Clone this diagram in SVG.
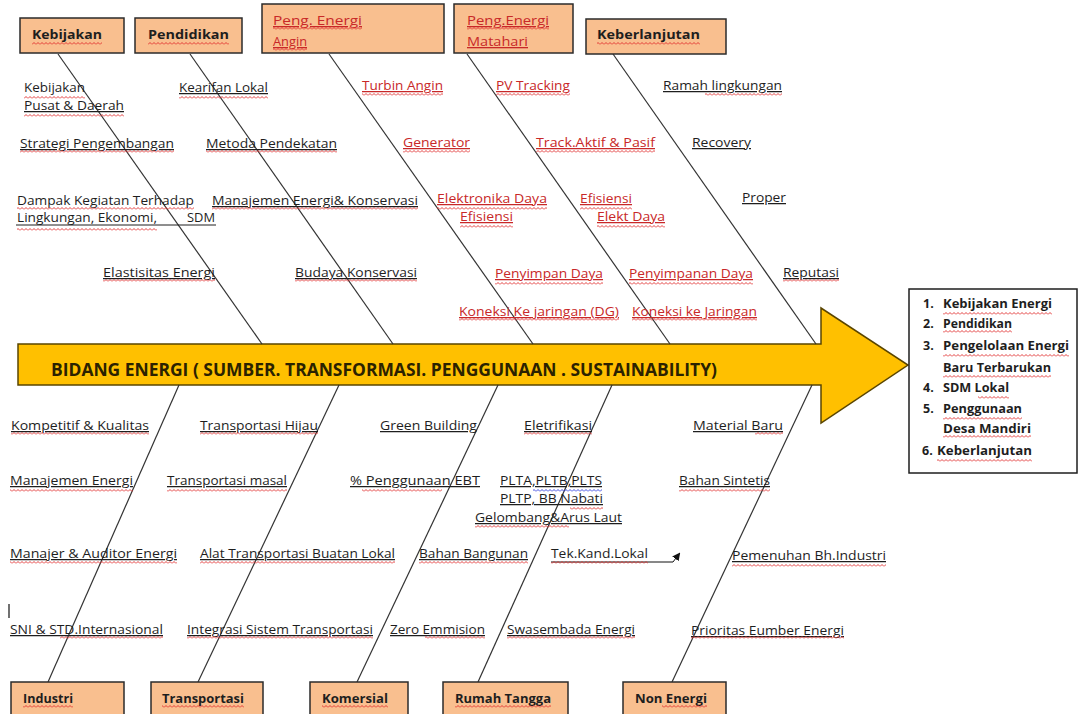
<svg xmlns="http://www.w3.org/2000/svg" width="1081" height="714" viewBox="0 0 1081 714">
<defs>
<style>
text{font-family:"Open Sans","Noto Sans","Liberation Sans",sans-serif}
.box{fill:#F9BF8F;stroke:#2b2b2b;stroke-width:1.5}
.bone{stroke:#333;stroke-width:1.2;fill:none}
.lb{font-size:12.5px;fill:#1e1e1e;text-decoration:underline}
.nu{font-size:12.5px;fill:#1e1e1e}
.rd{fill:#c82828}
.tt{font-size:13px;font-weight:bold;fill:#1e1e1e}
.tr{font-size:13px;fill:#c82828;text-decoration:underline}
.ls{font-size:12.5px;font-weight:bold;fill:#1e1e1e}
.sq{fill:url(#wavy)}
.sqb{fill:url(#wavyb)}
.ul{stroke:#1e1e1e;stroke-width:1}
</style>
<pattern id="wavy" x="0" y="0" width="4" height="3" patternUnits="userSpaceOnUse">
<path d="M0 2.5 L2 0.5 L4 2.5" fill="none" stroke="#e02a2a" stroke-width="0.9"/>
</pattern>
<pattern id="wavyb" x="0" y="0" width="4" height="3" patternUnits="userSpaceOnUse">
<path d="M0 2.5 L2 0.5 L4 2.5" fill="none" stroke="#2a3ae0" stroke-width="0.9"/>
</pattern>
<marker id="ah" markerWidth="8" markerHeight="8" refX="6" refY="4" orient="auto" markerUnits="userSpaceOnUse">
<path d="M0 0 L8 4 L0 8 Z" fill="#111"/>
</marker>
</defs>
<rect width="1081" height="714" fill="#ffffff"/>

<g id="spine">
<polygon points="18,344 821,344 821,308 908,365 821,423 821,385 18,385" fill="#FFC000" stroke="#5a4500" stroke-width="1.5"/>
<text x="51" y="376" font-size="17" font-weight="bold" fill="#2b2200" textLength="666" lengthAdjust="spacingAndGlyphs">BIDANG ENERGI ( SUMBER. TRANSFORMASI. PENGGUNAAN . SUSTAINABILITY)</text>
</g>

<g id="connectors">
<line class="bone" x1="58" y1="54" x2="262" y2="344"/>
<line class="bone" x1="190" y1="54" x2="393" y2="344"/>
<line class="bone" x1="329" y1="54" x2="533" y2="344"/>
<line class="bone" x1="467" y1="54" x2="670" y2="344"/>
<line class="bone" x1="613" y1="54" x2="816" y2="344"/>
<line class="bone" x1="179" y1="385" x2="48" y2="682"/>
<line class="bone" x1="339" y1="385" x2="198" y2="682"/>
<line class="bone" x1="498" y1="385" x2="357" y2="682"/>
<line class="bone" x1="612" y1="385" x2="478" y2="682"/>
<line class="bone" x1="812" y1="385" x2="672" y2="682"/>
<polyline points="551,562 673,562 679,554" fill="none" stroke="#111" stroke-width="1" marker-end="url(#ah)"/>
</g>

<g id="box-kebijakan">
<rect class="box" x="20" y="18" width="104" height="35"/>
<text class="tt" x="32" y="39" textLength="70" lengthAdjust="spacingAndGlyphs">Kebijakan</text>
<rect class="sq" x="32" y="42" width="70" height="3"/>
</g>
<g id="box-pendidikan">
<rect class="box" x="135" y="18" width="107" height="35"/>
<text class="tt" x="148" y="39" textLength="81" lengthAdjust="spacingAndGlyphs">Pendidikan</text>
<rect class="sq" x="148" y="42" width="81" height="3"/>
</g>
<g id="box-angin">
<rect class="box" x="262" y="4" width="182" height="49"/>
<text class="tr" x="273" y="25" textLength="89" lengthAdjust="spacingAndGlyphs">Peng. Energi</text>
<text class="tr" x="273" y="46" textLength="34" lengthAdjust="spacingAndGlyphs">Angin</text>
<rect class="sq" x="273" y="27" width="89" height="3"/>
<rect class="sq" x="273" y="48" width="34" height="3"/>
</g>
<g id="box-matahari">
<rect class="box" x="454" y="4" width="119" height="49"/>
<text class="tr" x="467" y="25" textLength="82" lengthAdjust="spacingAndGlyphs">Peng.Energi</text>
<text class="tr" x="467" y="46" textLength="61" lengthAdjust="spacingAndGlyphs">Matahari</text>
<rect class="sq" x="467" y="27" width="82" height="3"/>
</g>
<g id="box-keberlanjutan">
<rect class="box" x="586" y="19" width="140" height="35"/>
<text class="tt" x="597" y="39" textLength="103" lengthAdjust="spacingAndGlyphs">Keberlanjutan</text>
<rect class="sq" x="597" y="42" width="103" height="3"/>
</g>

<g id="box-industri">
<rect class="box" x="11" y="682" width="113" height="40"/>
<text class="tt" x="23" y="703" textLength="50" lengthAdjust="spacingAndGlyphs">Industri</text>
<rect class="sq" x="23" y="705" width="50" height="3"/>
</g>
<g id="box-transportasi">
<rect class="box" x="151" y="682" width="112" height="40"/>
<text class="tt" x="162" y="703" textLength="82" lengthAdjust="spacingAndGlyphs">Transportasi</text>
<rect class="sq" x="162" y="705" width="82" height="3"/>
</g>
<g id="box-komersial">
<rect class="box" x="310" y="682" width="98" height="40"/>
<text class="tt" x="322" y="703" textLength="66" lengthAdjust="spacingAndGlyphs">Komersial</text>
<rect class="sq" x="322" y="705" width="66" height="3"/>
</g>
<g id="box-rumahtangga">
<rect class="box" x="443" y="682" width="125" height="40"/>
<text class="tt" x="455" y="703" textLength="96" lengthAdjust="spacingAndGlyphs">Rumah Tangga</text>
<rect class="sq" x="455" y="705" width="96" height="3"/>
</g>
<g id="box-nonenergi">
<rect class="box" x="623" y="682" width="103" height="40"/>
<text class="tt" x="635" y="703" textLength="72" lengthAdjust="spacingAndGlyphs">Non Energi</text>
<rect class="sq" x="662" y="705" width="45" height="3"/>
</g>

<g id="labels-kebijakan">
<text class="nu" x="24" y="92" textLength="61" lengthAdjust="spacingAndGlyphs">Kebijakan</text>
<text class="lb" x="24" y="110" textLength="100" lengthAdjust="spacingAndGlyphs">Pusat &amp; Daerah</text>
<text class="lb" x="20" y="148" textLength="154" lengthAdjust="spacingAndGlyphs">Strategi Pengembangan</text>
<text class="nu" x="17" y="205" textLength="177" lengthAdjust="spacingAndGlyphs">Dampak Kegiatan Terhadap</text>
<text class="nu" x="17" y="222" textLength="140" lengthAdjust="spacingAndGlyphs">Lingkungan, Ekonomi,</text>
<text class="nu" x="187" y="222" textLength="28" lengthAdjust="spacingAndGlyphs">SDM</text>
<line class="ul" x1="16" y1="225" x2="216" y2="225"/>
<text class="lb" x="103" y="277" textLength="112" lengthAdjust="spacingAndGlyphs">Elastisitas Energi</text>
</g>
<g id="labels-pendidikan">
<text class="lb" x="179" y="92" textLength="89" lengthAdjust="spacingAndGlyphs">Kearifan Lokal</text>
<text class="lb" x="206" y="148" textLength="131" lengthAdjust="spacingAndGlyphs">Metoda Pendekatan</text>
<text class="lb" x="212" y="205" textLength="206" lengthAdjust="spacingAndGlyphs">Manajemen Energi&amp; Konservasi</text>
<text class="lb" x="295" y="277" textLength="122" lengthAdjust="spacingAndGlyphs">Budaya Konservasi</text>
</g>
<g id="labels-angin">
<text class="lb rd" x="362" y="90" textLength="81" lengthAdjust="spacingAndGlyphs">Turbin Angin</text>
<text class="lb rd" x="403" y="147" textLength="67" lengthAdjust="spacingAndGlyphs">Generator</text>
<text class="lb rd" x="437" y="203" textLength="110" lengthAdjust="spacingAndGlyphs">Elektronika Daya</text>
<text class="lb rd" x="460" y="221" textLength="53" lengthAdjust="spacingAndGlyphs">Efisiensi</text>
<text class="lb rd" x="495" y="278" textLength="108" lengthAdjust="spacingAndGlyphs">Penyimpan Daya</text>
<text class="lb rd" x="459" y="316" textLength="160" lengthAdjust="spacingAndGlyphs">Koneksi Ke jaringan (DG)</text>
</g>
<g id="labels-matahari">
<text class="lb rd" x="496" y="90" textLength="74" lengthAdjust="spacingAndGlyphs">PV Tracking</text>
<text class="lb rd" x="536" y="147" textLength="119" lengthAdjust="spacingAndGlyphs">Track.Aktif &amp; Pasif</text>
<text class="lb rd" x="580" y="203" textLength="52" lengthAdjust="spacingAndGlyphs">Efisiensi</text>
<text class="lb rd" x="597" y="221" textLength="68" lengthAdjust="spacingAndGlyphs">Elekt Daya</text>
<text class="lb rd" x="629" y="278" textLength="124" lengthAdjust="spacingAndGlyphs">Penyimpanan Daya</text>
<text class="lb rd" x="632" y="316" textLength="125" lengthAdjust="spacingAndGlyphs">Koneksi ke Jaringan</text>
</g>
<g id="labels-keberlanjutan">
<text class="lb" x="663" y="90" textLength="119" lengthAdjust="spacingAndGlyphs">Ramah lingkungan</text>
<text class="lb" x="692" y="147" textLength="59" lengthAdjust="spacingAndGlyphs">Recovery</text>
<text class="lb" x="742" y="202" textLength="44" lengthAdjust="spacingAndGlyphs">Proper</text>
<text class="lb" x="783" y="277" textLength="56" lengthAdjust="spacingAndGlyphs">Reputasi</text>
</g>
<g id="labels-industri">
<text class="lb" x="11" y="430" textLength="138" lengthAdjust="spacingAndGlyphs">Kompetitif &amp; Kualitas</text>
<text class="lb" x="10" y="485" textLength="123" lengthAdjust="spacingAndGlyphs">Manajemen Energi</text>
<text class="lb" x="10" y="558" textLength="167" lengthAdjust="spacingAndGlyphs">Manajer &amp; Auditor Energi</text>
<line x1="9" y1="604" x2="9" y2="618" stroke="#111" stroke-width="1.2"/>
<text class="lb" x="10" y="634" textLength="153" lengthAdjust="spacingAndGlyphs">SNI &amp; STD.Internasional</text>
</g>
<g id="labels-transportasi">
<text class="lb" x="200" y="430" textLength="118" lengthAdjust="spacingAndGlyphs">Transportasi Hijau</text>
<text class="lb" x="167" y="485" textLength="120" lengthAdjust="spacingAndGlyphs">Transportasi masal</text>
<text class="lb" x="200" y="558" textLength="195" lengthAdjust="spacingAndGlyphs">Alat Transportasi Buatan Lokal</text>
<text class="lb" x="187" y="634" textLength="186" lengthAdjust="spacingAndGlyphs">Integrasi Sistem Transportasi</text>
</g>
<g id="labels-komersial">
<text class="lb" x="380" y="430" textLength="97" lengthAdjust="spacingAndGlyphs">Green Building</text>
<text class="lb" x="350" y="485" textLength="130" lengthAdjust="spacingAndGlyphs">% Penggunaan  EBT</text>
<text class="lb" x="419" y="558" textLength="109" lengthAdjust="spacingAndGlyphs">Bahan Bangunan</text>
<text class="lb" x="390" y="634" textLength="95" lengthAdjust="spacingAndGlyphs">Zero Emmision</text>
</g>
<g id="labels-rumahtangga">
<text class="lb" x="524" y="430" textLength="68" lengthAdjust="spacingAndGlyphs">Eletrifikasi</text>
<text class="lb" x="500" y="485" textLength="102" lengthAdjust="spacingAndGlyphs">PLTA,PLTB,PLTS</text>
<text class="lb" x="500" y="503" textLength="103" lengthAdjust="spacingAndGlyphs">PLTP, BB Nabati</text>
<text class="lb" x="475" y="522" textLength="147" lengthAdjust="spacingAndGlyphs">Gelombang&amp;Arus Laut</text>
<text class="nu" x="551" y="558" textLength="97" lengthAdjust="spacingAndGlyphs">Tek.Kand.Lokal</text>
<text class="lb" x="507" y="634" textLength="128" lengthAdjust="spacingAndGlyphs">Swasembada Energi</text>
</g>
<g id="labels-nonenergi">
<text class="lb" x="693" y="430" textLength="90" lengthAdjust="spacingAndGlyphs">Material Baru</text>
<text class="lb" x="679" y="485" textLength="91" lengthAdjust="spacingAndGlyphs">Bahan Sintetis</text>
<text class="lb" x="732" y="560" textLength="154" lengthAdjust="spacingAndGlyphs">Pemenuhan Bh.Industri</text>
<text class="lb" x="691" y="635" textLength="153" lengthAdjust="spacingAndGlyphs">Prioritas Eumber Energi</text>
</g>

<g id="conclusion">
<rect x="909" y="289" width="168" height="184" fill="#ffffff" stroke="#1e1e1e" stroke-width="1.5"/>
<text class="ls" x="923" y="308">1.</text>
<text class="ls" x="943" y="308" textLength="109" lengthAdjust="spacingAndGlyphs">Kebijakan Energi</text>
<text class="ls" x="923" y="328">2.</text>
<text class="ls" x="943" y="328" textLength="69" lengthAdjust="spacingAndGlyphs">Pendidikan</text>
<text class="ls" x="923" y="350">3.</text>
<text class="ls" x="943" y="350" textLength="126" lengthAdjust="spacingAndGlyphs">Pengelolaan Energi</text>
<text class="ls" x="943" y="372" textLength="108" lengthAdjust="spacingAndGlyphs">Baru Terbarukan</text>
<text class="ls" x="923" y="392">4.</text>
<text class="ls" x="943" y="392" textLength="66" lengthAdjust="spacingAndGlyphs">SDM Lokal</text>
<text class="ls" x="923" y="413">5.</text>
<text class="ls" x="943" y="413" textLength="79" lengthAdjust="spacingAndGlyphs">Penggunaan</text>
<text class="ls" x="943" y="433" textLength="88" lengthAdjust="spacingAndGlyphs">Desa Mandiri</text>
<text class="ls" x="922" y="455">6.</text>
<text class="ls" x="937" y="455" textLength="95" lengthAdjust="spacingAndGlyphs">Keberlanjutan</text>
</g>

<g id="spellcheck">
<rect class="sq" x="24" y="96" width="61" height="3"/>
<rect class="sq" x="24" y="114" width="100" height="3"/>
<rect class="sq" x="179" y="96" width="89" height="3"/>
<rect class="sq" x="20" y="150" width="154" height="3"/>
<rect class="sq" x="206" y="150" width="131" height="3"/>
<rect class="sq" x="17" y="207" width="177" height="3"/>
<rect class="sq" x="17" y="228" width="140" height="3"/>
<rect class="sq" x="212" y="207" width="206" height="3"/>
<rect class="sq" x="103" y="279" width="112" height="3"/>
<rect class="sq" x="295" y="279" width="122" height="3"/>
<rect class="sq" x="362" y="93" width="81" height="3"/>
<rect class="sq" x="403" y="150" width="67" height="3"/>
<rect class="sq" x="437" y="207" width="110" height="3"/>
<rect class="sq" x="460" y="225" width="53" height="3"/>
<rect class="sq" x="495" y="282" width="108" height="3"/>
<rect class="sq" x="459" y="318" width="160" height="3"/>
<rect class="sq" x="496" y="93" width="74" height="3"/>
<rect class="sq" x="536" y="150" width="119" height="3"/>
<rect class="sq" x="580" y="207" width="52" height="3"/>
<rect class="sq" x="597" y="225" width="68" height="3"/>
<rect class="sq" x="629" y="282" width="124" height="3"/>
<rect class="sq" x="632" y="318" width="125" height="3"/>
<rect class="sq" x="705" y="93" width="77" height="3"/>
<rect class="sq" x="783" y="279" width="56" height="3"/>
<rect class="sq" x="11" y="432" width="138" height="3"/>
<rect class="sq" x="200" y="432" width="118" height="3"/>
<rect class="sq" x="524" y="432" width="68" height="3"/>
<rect class="sq" x="755" y="432" width="28" height="3"/>
<rect class="sq" x="10" y="489" width="123" height="3"/>
<rect class="sq" x="167" y="489" width="120" height="3"/>
<rect class="sq" x="362" y="489" width="80" height="3"/>
<rect class="sqb" x="533" y="489" width="69" height="3"/>
<rect class="sq" x="570" y="507" width="33" height="3"/>
<rect class="sq" x="475" y="525" width="94" height="3"/>
<rect class="sq" x="679" y="489" width="91" height="3"/>
<rect class="sq" x="10" y="561" width="167" height="3"/>
<rect class="sq" x="200" y="561" width="195" height="3"/>
<rect class="sq" x="419" y="561" width="109" height="3"/>
<rect class="sq" x="551" y="561" width="97" height="3"/>
<rect class="sq" x="732" y="564" width="154" height="3"/>
<rect class="sq" x="60" y="636" width="103" height="3"/>
<rect class="sq" x="187" y="636" width="186" height="3"/>
<rect class="sq" x="425" y="636" width="60" height="3"/>
<rect class="sq" x="507" y="636" width="128" height="3"/>
<rect class="sq" x="691" y="636" width="153" height="3"/>
<rect class="sq" x="943" y="312" width="109" height="3"/>
<rect class="sq" x="943" y="330" width="69" height="3"/>
<rect class="sq" x="943" y="354" width="126" height="3"/>
<rect class="sq" x="943" y="375" width="108" height="3"/>
<rect class="sq" x="978" y="396" width="31" height="3"/>
<rect class="sq" x="943" y="417" width="79" height="3"/>
<rect class="sq" x="943" y="435" width="88" height="3"/>
<rect class="sq" x="937" y="459" width="95" height="3"/>
</g>
</svg>
